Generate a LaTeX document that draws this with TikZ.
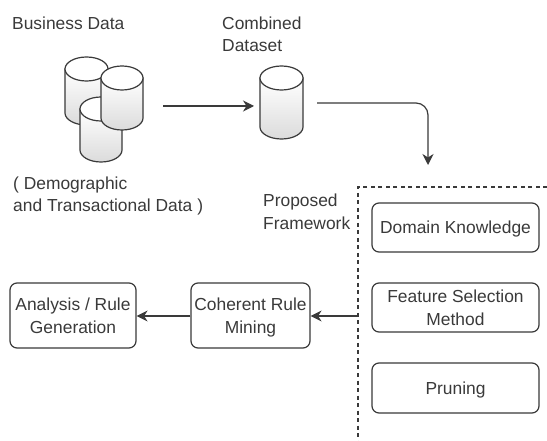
\documentclass[tikz,border=0pt]{standalone}
\usepackage{fontspec}
\setmainfont{Liberation Sans}
\usetikzlibrary{arrows.meta}
\definecolor{ink}{HTML}{3A3A3A}
\tikzset{
  x=1pt,y=-1pt,
  txt/.style={text=ink,font=\fontsize{17.4}{22.5}\selectfont,inner sep=0pt},
  lab/.style={txt,align=left,anchor=west},
  rbox/.style={draw=ink,line width=1.2pt,rounded corners=7pt,txt,align=center,anchor=center,text depth=0pt},
  flow/.style={draw=ink,line width=1.2pt,-{Stealth[length=11pt,width=11pt,inset=3.5pt]}},
  cylbody/.style={draw=ink,line width=1.2pt,top color=white,bottom color=black!14},
  cyltop/.style={draw=ink,line width=1.2pt,fill=white},
}
\newcommand{\cylshape}[5]{% name, left, right, top, bottom
  \pgfmathsetmacro{\cx}{(#2+#3)/2}
  \pgfmathsetmacro{\rx}{(#3-#2)/2}
  \coordinate (#1) at (\cx,{(#4+#5)/2});
  \path[cylbody] (#2,#4+12) -- (#2,#5-12) arc[start angle=180,end angle=360,x radius=\rx pt,y radius=12pt] -- (#3,#4+12) -- cycle;
  \path[cyltop] (\cx,#4+12) ellipse[x radius=\rx pt,y radius=12pt];
}
\begin{document}
\begin{tikzpicture}
\useasboundingbox[fill=white] (0,0) rectangle (547,441);
% cylinders
\cylshape{cylA}{65}{108}{57}{125}
\cylshape{cylC}{80}{122}{97}{162}
\cylshape{cylB}{101}{143}{66}{130}
\cylshape{cylD}{260}{303}{66}{139}
% labels
\node[lab] (business) at (12,23) {Business Data};
\node[lab] (combined) at (222,34.5) {Combined\\Dataset};
\node[lab] (demo) at (13,196) {( Demographic\\and Transactional Data )};
\node[lab] (proposed) at (263,212) {Proposed\\Framework};
% dashed frame
\draw[draw=ink,line width=1.2pt,dash pattern=on 4pt off 3.5pt] (547,187) -- (358,187) -- (358,441);
% boxes
\node[rbox,minimum width=167pt,minimum height=49pt] (domain) at (455.5,227.5) {Domain Knowledge};
\node[rbox,minimum width=167pt,minimum height=49pt] (feature) at (455.5,307.5) {Feature Selection\\Method};
\node[rbox,minimum width=167pt,minimum height=50pt] (pruning) at (455.5,388) {Pruning};
\node[rbox,minimum width=119pt,minimum height=65pt] (coherent) at (250.5,315.5) {Coherent Rule\\Mining};
\node[rbox,minimum width=126pt,minimum height=65pt] (analysis) at (73,315.5) {Analysis / Rule\\Generation};
% connectors
\coordinate (a1s) at (163,106);
\coordinate (a1e) at (254,106);
\coordinate (a2s) at (317,103);
\coordinate (a2c) at (428,103);
\coordinate (a2e) at (428,165);
\coordinate (frameW) at (358,316);
\draw[flow] (a1s) -- (a1e);
\draw[flow,rounded corners=12pt] (a2s) -- (a2c) -- (a2e);
\draw[flow] (frameW) -- (coherent.east |- frameW);
\draw[flow] (coherent.west |- frameW) -- (analysis.east |- frameW);
\end{tikzpicture}
\end{document}
